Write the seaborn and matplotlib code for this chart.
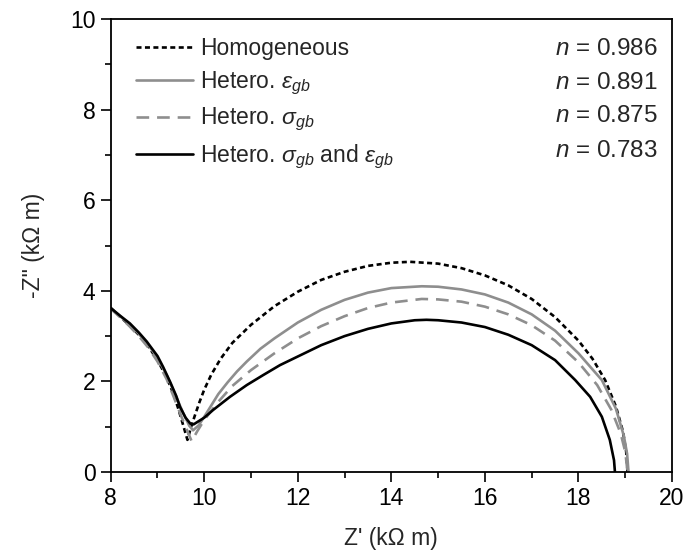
import matplotlib
matplotlib.use("Agg")
import matplotlib.pyplot as plt
import seaborn as sns
import pandas as pd
from matplotlib.ticker import MultipleLocator

# ---------------- data ----------------
homog_x = [8.0, 8.2, 8.4, 8.6, 8.8, 9.0, 9.2, 9.35, 9.45, 9.55, 9.64,
           9.72, 9.8, 9.9, 10.0, 10.15, 10.35, 10.6, 11.0, 11.5, 12.0, 12.5, 13.0,
           13.5, 14.0, 14.4, 15.0, 15.5, 16.0, 16.5, 17.0, 17.5, 18.0, 18.3,
           18.57, 18.8, 18.95, 19.02, 19.05]
homog_y = [3.62, 3.43, 3.24, 3.03, 2.78, 2.47, 2.08, 1.70, 1.38, 1.03, 0.71,
           1.00, 1.25, 1.55, 1.82, 2.15, 2.50, 2.85, 3.25, 3.66, 3.98, 4.24, 4.42,
           4.55, 4.62, 4.64, 4.60, 4.50, 4.34, 4.12, 3.82, 3.42, 2.90, 2.50,
           2.03, 1.45, 0.90, 0.45, 0.0]

eps_x = [8.0, 8.2, 8.4, 8.6, 8.8, 9.0, 9.2, 9.4, 9.55, 9.68, 9.76,
         9.88, 10.0, 10.15, 10.3, 10.5, 10.7, 10.91, 11.2, 11.5, 12.0, 12.5,
         13.0, 13.5, 14.0, 14.65, 15.0, 15.5, 16.0, 16.5, 17.0, 17.5, 18.0,
         18.5, 18.8, 18.97, 19.04, 19.07]
eps_y = [3.62, 3.44, 3.26, 3.05, 2.81, 2.52, 2.13, 1.66, 1.30, 1.02, 0.92,
         1.03, 1.22, 1.47, 1.72, 1.98, 2.22, 2.44, 2.72, 2.95, 3.30, 3.58,
         3.80, 3.96, 4.06, 4.10, 4.09, 4.03, 3.92, 3.74, 3.48, 3.12, 2.62,
         2.03, 1.40, 0.80, 0.40, 0.0]

sig_x = [8.0, 8.2, 8.4, 8.6, 8.8, 9.0, 9.2, 9.35, 9.5, 9.62, 9.73,
         9.85, 10.0, 10.3, 10.6, 11.0, 11.5, 12.0, 12.5, 13.0, 13.5, 14.0, 14.65,
         15.0, 15.5, 16.0, 16.5, 17.0, 17.5, 18.0, 18.4, 18.7, 18.9, 19.0, 19.05]
sig_y = [3.60, 3.42, 3.22, 3.00, 2.75, 2.44, 2.04, 1.65, 1.25, 0.95, 0.68,
         0.90, 1.15, 1.55, 1.90, 2.25, 2.62, 2.95, 3.22, 3.44, 3.62, 3.74, 3.82,
         3.81, 3.76, 3.65, 3.48, 3.24, 2.90, 2.42, 1.92, 1.38, 0.86, 0.45, 0.0]

both_x = [8.0, 8.2, 8.41, 8.6, 8.77, 9.0, 9.12, 9.27, 9.4, 9.48, 9.6, 9.7, 9.77,
          10.0, 10.19, 10.55, 10.91, 11.26, 11.62, 12.0, 12.5, 13.0, 13.5, 14.0,
          14.5, 14.75, 15.0, 15.5, 16.0, 16.5, 17.0, 17.5, 17.93, 18.25, 18.5,
          18.67, 18.76, 18.78]
both_y = [3.62, 3.45, 3.28, 3.08, 2.88, 2.56, 2.32, 1.99, 1.68, 1.44, 1.20, 1.07, 1.05,
          1.20, 1.37, 1.66, 1.92, 2.14, 2.36, 2.55, 2.80, 3.00, 3.16, 3.28,
          3.35, 3.36, 3.35, 3.30, 3.20, 3.03, 2.80, 2.47, 2.03, 1.66, 1.22,
          0.71, 0.26, 0.0]

series_labels = ["Homogeneous",
                 r"Hetero. $\varepsilon_{gb}$",
                 r"Hetero. $\sigma_{gb}$",
                 r"Hetero. $\sigma_{gb}$ and $\varepsilon_{gb}$"]
n_values = ["0.986", "0.891", "0.875", "0.783"]

x_ticks = [8, 10, 12, 14, 16, 18, 20]
y_ticks = [0, 2, 4, 6, 8, 10]

# ---------------- style ----------------
sns.set_theme(style="ticks")
plt.rcParams["font.family"] = ["Liberation Sans", "DejaVu Sans"]
plt.rcParams["mathtext.fontset"] = "custom"
plt.rcParams["mathtext.rm"] = "Liberation Sans"
plt.rcParams["mathtext.it"] = "Liberation Sans:italic"
plt.rcParams["mathtext.bf"] = "Liberation Sans:bold"

FS = 16.5
fig = plt.figure(figsize=(6.86, 5.54), dpi=100)
ax = fig.add_axes([0.1614, 0.148, 0.8182, 0.8177])

GRAY = "#8e8e8e"
LW = 1.9
styles = [
    dict(color="black", linestyle=(0, (1.9, 1.3)), linewidth=LW),
    dict(color=GRAY, linestyle="-", linewidth=LW),
    dict(color=GRAY, linestyle=(0, (4.8, 3.0)), linewidth=LW),
    dict(color="black", linestyle="-", linewidth=LW),
]
xs = [homog_x, eps_x, sig_x, both_x]
ys = [homog_y, eps_y, sig_y, both_y]

for x, y, lab, st in zip(xs, ys, series_labels, styles):
    df = pd.DataFrame({"x": x, "y": y})
    sns.lineplot(data=df, x="x", y="y", ax=ax, sort=False, estimator=None,
                 label=lab, **st)

ax.set_xlim(8, 20)
ax.set_ylim(0, 10)
ax.set_xticks(x_ticks)
ax.set_yticks(y_ticks)
ax.xaxis.set_minor_locator(MultipleLocator(1))
ax.yaxis.set_minor_locator(MultipleLocator(1))
ax.tick_params(which="major", direction="out", length=7, width=1.2,
               labelsize=FS, color="black", labelcolor="black", pad=4,
               top=False, right=False)
ax.tick_params(which="minor", direction="out", length=4.5, width=1.2,
               color="black", top=False, right=False)
for s in ax.spines.values():
    s.set_visible(True)
    s.set_linewidth(1.3)
    s.set_color("black")

ax.set_xlabel("Z' (k\u03a9 m)", fontsize=FS, labelpad=12)
ax.set_ylabel('-Z" (k\u03a9 m)', fontsize=FS, labelpad=18)

leg = ax.legend(loc="upper left", bbox_to_anchor=(0.012, 1.0), frameon=False,
                fontsize=FS, handlelength=2.5, handletextpad=0.3,
                labelspacing=0.4, borderaxespad=0.4)

row_y = [0.934, 0.859, 0.785, 0.709]
for yy, nv in zip(row_y, n_values):
    ax.text(0.9745, yy, r"$n$ = " + nv, transform=ax.transAxes, ha="right",
            va="center", fontsize=FS + 1)

fig.savefig("out.png", dpi=100)
